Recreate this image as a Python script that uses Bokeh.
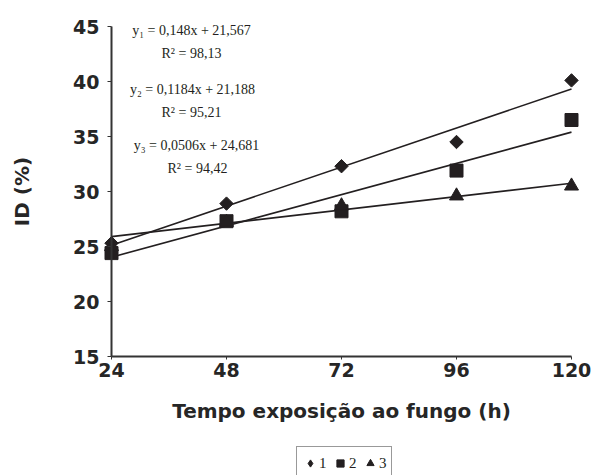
import math
from bokeh.plotting import figure
from bokeh.models import Label, Legend, LegendItem, Range1d, FixedTicker
from bokeh.embed import file_html
from bokeh.resources import INLINE

# ---- data ----
hours = [24, 48, 72, 96, 120]
serie1 = [25.3, 28.9, 32.3, 34.5, 40.1]
serie2 = [24.4, 27.3, 28.2, 31.9, 36.5]
serie3 = [25.0, 27.2, 28.7, 29.6, 30.5]
slopes = [0.148, 0.1184, 0.0506]
intercepts = [21.567, 21.188, 24.681]
eq_texts = ["y\u2081 = 0,148x + 21,567", "y\u2082 = 0,1184x + 21,188", "y\u2083 = 0,0506x + 24,681"]
r2_texts = ["R\u00b2 = 98,13", "R\u00b2 = 95,21", "R\u00b2 = 94,42"]
y_ticks = [15, 20, 25, 30, 35, 40, 45]
series_names = ["1", "2", "3"]

INK = "#231F20"
SANS = "DejaVu Sans"
SERIF = "Liberation Serif"

# layout (pixels inside the figure)
W, H = 601, 475
X0_PX, X1_PX = 111, 571      # where 24 and 120 fall
Y1_PX, Y0_PX = 26, 356       # where 45 and 15 fall
xmin, xmax = hours[0], hours[-1]
ymin, ymax = y_ticks[0], y_ticks[-1]
xs_per_px = (xmax - xmin) / (X1_PX - X0_PX)
ys_per_px = (ymax - ymin) / (Y0_PX - Y1_PX)

p = figure(width=W, height=H, output_backend="svg", toolbar_location=None,
           x_range=Range1d(xmin - X0_PX * xs_per_px, xmax + (W - X1_PX) * xs_per_px),
           y_range=Range1d(ymin - (H - Y0_PX) * ys_per_px, ymax + Y1_PX * ys_per_px),
           min_border=0, min_border_left=0, min_border_right=0,
           min_border_top=0, min_border_bottom=0)
p.outline_line_color = None
p.grid.visible = False
p.background_fill_color = "white"

# axes
for ax in (p.xaxis[0], p.yaxis[0]):
    ax.axis_line_color = "#333333"
    ax.axis_line_width = 2
    ax.major_tick_line_color = "#333333"
    ax.major_tick_line_width = 1
    ax.minor_tick_line_color = None
    ax.major_tick_in = 0
    ax.major_label_text_font = SANS
    ax.major_label_text_font_style = "bold"
    ax.major_label_text_font_size = "19px"
    ax.major_label_text_color = "#262626"
    ax.axis_label_text_font = SANS
    ax.axis_label_text_font_style = "bold"
    ax.axis_label_text_font_size = "20px"
    ax.axis_label_text_color = "#262626"

p.xaxis.ticker = FixedTicker(ticks=hours)
p.xaxis.fixed_location = ymin
p.xaxis.bounds = (xmin, xmax)
p.xaxis.major_tick_out = 3
p.xaxis.major_label_standoff = 3
p.xaxis.axis_label = "Tempo exposição ao fungo (h)"
p.xaxis.axis_label_standoff = 19

p.yaxis.ticker = FixedTicker(ticks=y_ticks)
p.yaxis.fixed_location = xmin
p.yaxis.bounds = (ymin, ymax)
p.yaxis.major_tick_out = 4
p.yaxis.major_label_standoff = 8
p.yaxis.axis_label = "ID (%)"
p.yaxis.axis_label_standoff = 36

# regression lines
for a, b in zip(slopes, intercepts):
    xs = [hours[0], hours[-1]]
    p.line(xs, [a * x + b for x in xs], line_color=INK, line_width=1.6)

# points
r1 = p.scatter(hours, serie1, marker="square", angle=math.pi / 4, size=9.5,
               fill_color=INK, line_color=INK)
r2 = p.scatter(hours, serie2, marker="square", size=13, fill_color=INK, line_color=INK)
r3 = p.scatter(hours, serie3, marker="triangle", size=14, fill_color=INK, line_color=INK)
# legend symbol for series 1 (the legend ignores the marker angle); zero size in the plot
r1_key = p.scatter(hours, serie1, marker="diamond", size=0, fill_color=INK,
                   line_color=INK, line_width=1)

# equations (placed in screen pixels, converted to data)
def px(sx, sy):
    return xmin + (sx - X0_PX) * xs_per_px, ymin + (Y0_PX - sy) * ys_per_px

eq_px = [(191, 30), (192, 89), (196, 145)]
r2_px = [(191, 53), (191, 112), (197, 168)]
for t, (sx, sy) in zip(eq_texts, eq_px):
    x, y = px(sx, sy)
    p.add_layout(Label(x=x, y=y, text=t, text_font=SERIF, text_font_size="14px",
                       text_align="center", text_baseline="middle", text_color=INK))
for t, (sx, sy) in zip(r2_texts, r2_px):
    x, y = px(sx, sy)
    p.add_layout(Label(x=x, y=y, text=t, text_font=SERIF, text_font_size="14px",
                       text_align="center", text_baseline="middle", text_color=INK))

legend = Legend(items=[LegendItem(label=n, renderers=[r]) for n, r in zip(series_names, [r1_key, r2, r3])],
                orientation="horizontal", location=(296, -5),
                glyph_width=18, glyph_height=24, label_standoff=0, spacing=4, padding=4,
                label_width=8, margin=0, label_text_font=SERIF, label_text_font_size="15px",
                label_text_color=INK, border_line_color="#333333", border_line_width=1,
                background_fill_alpha=1.0, label_height=15)
p.add_layout(legend)

open("out.html", "w").write(file_html(p, INLINE))
